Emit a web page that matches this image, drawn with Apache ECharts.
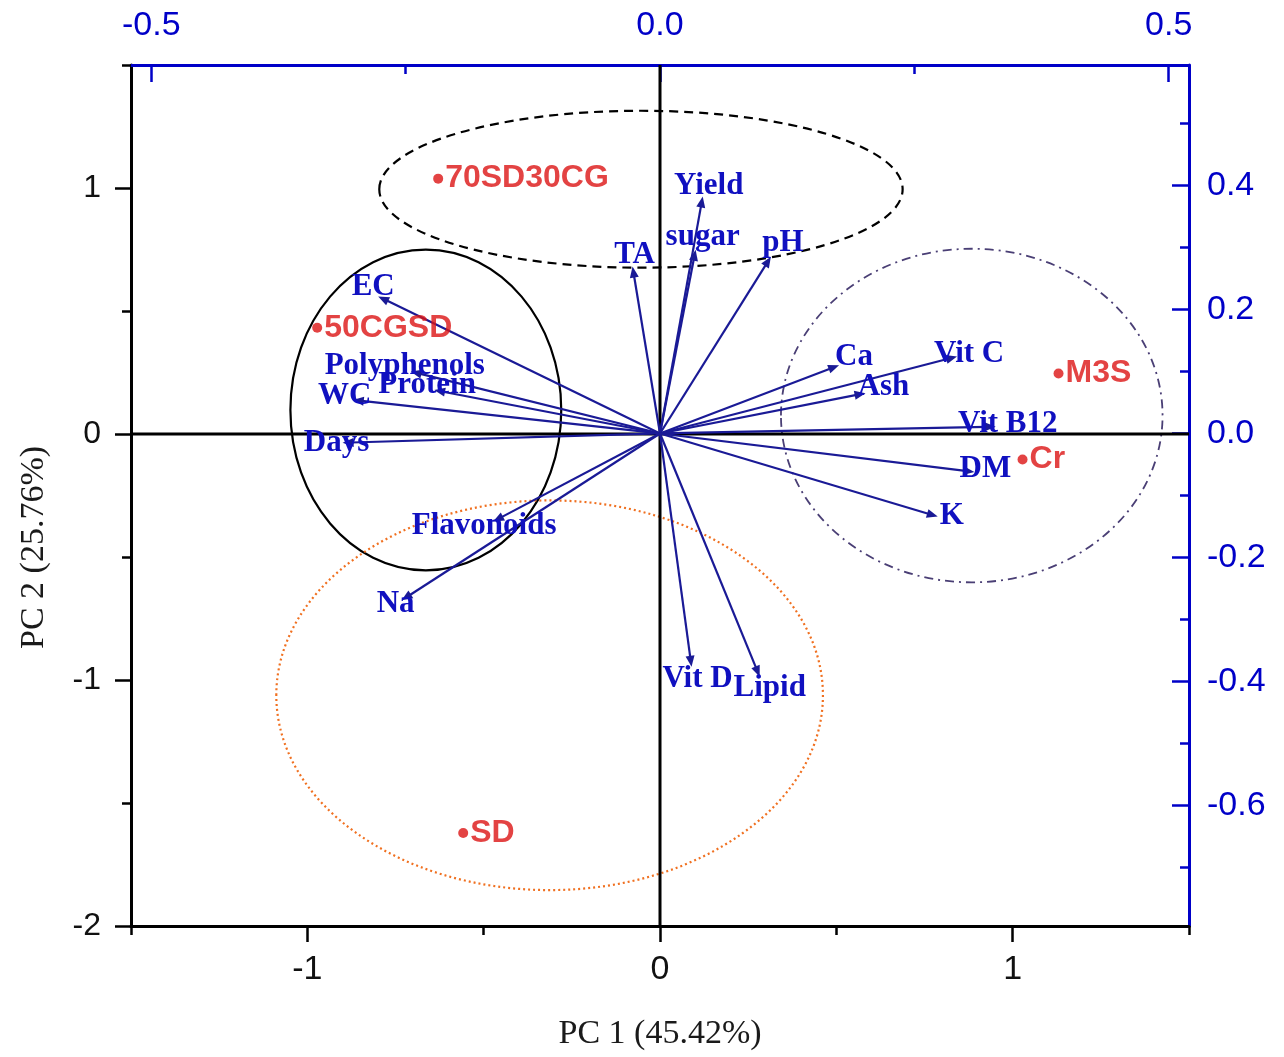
<!DOCTYPE html>
<html><head><meta charset="utf-8">
<script src="https://cdn.jsdelivr.net/npm/echarts@6/dist/echarts.min.js"></script>
<style>html,body{margin:0;padding:0;background:#fff}#c{width:1284px;height:1057px}</style>
</head><body><div id="c"></div>
<script>
// ---- Scores (bottom / left axes) ----
const sampleNames = ['70SD30CG', '50CGSD', 'M3S', 'Cr', 'SD'];
const samplePC1 = [-0.629, -0.972, 1.130, 1.028, -0.558];
const samplePC2 = [1.038, 0.432, 0.246, -0.104, -1.622];

// ---- Loadings (top / right axes) ----
const loadNames = ['EC', 'Polyphenols', 'Protein', 'WC', 'Days', 'Flavonoids', 'Na', 'Vit D', 'Lipid',
  'TA', 'sugar', 'Yield', 'pH', 'Ca', 'Vit C', 'Ash', 'Vit B12', 'DM', 'K'];
const loadPC1 = [-0.277, -0.245, -0.222, -0.302, -0.312, -0.164, -0.254, 0.031, 0.098,
  -0.027, 0.035, 0.042, 0.109, 0.176, 0.292, 0.202, 0.330, 0.309, 0.273];
const loadPC2 = [0.221, 0.100, 0.070, 0.054, -0.015, -0.142, -0.269, -0.376, -0.392,
  0.269, 0.296, 0.382, 0.285, 0.110, 0.124, 0.065, 0.011, -0.062, -0.134];

// ---- Tick values ----
const bottomMajor = [-1, 0, 1];
const bottomMinor = [-1.5, -0.5, 0.5, 1.5];
const leftMajor = [-2, -1, 0, 1];
const leftMinor = [-1.5, -0.5, 0.5, 1.5];
const topMajor = [-0.5, 0, 0.5];
const topMinor = [-0.25, 0.25];
const rightMajor = [-0.6, -0.4, -0.2, 0, 0.2, 0.4];
const rightMinor = [-0.7, -0.5, -0.3, -0.1, 0.1, 0.3, 0.5];

// ---- Group ellipses (score-axis units: cx, cy, rx, ry) ----
const ellipseCX = [-0.054, -0.664, -0.313, 0.884];
const ellipseCY = [0.995, 0.0975, -1.062, 0.075];
const ellipseRX = [0.742, 0.384, 0.775, 0.541];
const ellipseRY = [0.319, 0.652, 0.792, 0.678];

// ---- styles (kept apart from data) ----
const ellipseStyles = [
  { stroke: '#000', lineWidth: 2.2, lineDash: [9, 6] },
  { stroke: '#000', lineWidth: 2.2, lineDash: null },
  { stroke: '#f07020', lineWidth: 2.2, lineDash: [2, 3] },
  { stroke: '#4a3f75', lineWidth: 1.8, lineDash: [9, 5, 2, 5] }
];
const loadLabelShift = {
  'EC': [-5, -9], 'Polyphenols': [-6, -5], 'Protein': [-7, -5], 'WC': [-8, -4], 'Days': [-6, 0],
  'Flavonoids': [-9, 4], 'Na': [-6, 4], 'Vit D': [6, 12], 'Lipid': [10, 11], 'TA': [2, -12],
  'sugar': [7, -13], 'Yield': [6, -11], 'pH': [12, -14], 'Ca': [15, -8], 'Vit C': [12, -3],
  'Ash': [18, -6], 'Vit B12': [12, -3], 'DM': [11, -3], 'K': [14, -1]
};

const BLUE = '#0000c8';
const VEC = '#1a1a96';
const VEC_TXT = '#1010c0';
const RED = '#dc1414';
const SANS = '"Liberation Sans", Arial, sans-serif';
const SERIF = '"Liberation Serif", "Times New Roman", serif';

const chart = echarts.init(document.getElementById('c'), null, { renderer: 'canvas' });

function axisCommon() {
  return { type: 'value', splitLine: { show: false }, scale: false };
}

const option = {
  animation: false,
  backgroundColor: '#fff',
  grid: { left: 131, right: 95, top: 65, bottom: 131, containLabel: false, outerBoundsMode: 'none' },
  xAxis: [
    Object.assign(axisCommon(), {
      position: 'bottom', min: -1.5, max: 1.5,
      axisLine: { show: true, onZero: false, lineStyle: { color: '#000', width: 3 } },
      axisTick: { show: true, inside: false, length: 16, customValues: bottomMajor, lineStyle: { color: '#000', width: 2.5 } },
      axisLabel: { show: true, customValues: bottomMajor, margin: 27, color: '#111', fontFamily: SANS, fontSize: 34 },
      name: 'PC 1 (45.42%)', nameLocation: 'middle', nameGap: 91,
      nameTextStyle: { fontFamily: SERIF, fontSize: 34, color: '#1a1a1a' }
    }),
    Object.assign(axisCommon(), {
      position: 'top', min: -0.52, max: 0.52,
      axisLine: { show: true, onZero: false, lineStyle: { color: BLUE, width: 3 } },
      axisTick: { show: true, inside: true, length: 17, customValues: topMajor, lineStyle: { color: BLUE, width: 2.5 } },
      axisLabel: { show: true, customValues: topMajor, margin: 22, color: BLUE, fontFamily: SANS, fontSize: 34,
        formatter: v => v.toFixed(1) }
    }),
    Object.assign(axisCommon(), {
      position: 'bottom', min: -1.5, max: 1.5,
      axisLine: { show: false, onZero: false },
      axisTick: { show: true, inside: false, length: 9, customValues: bottomMinor, lineStyle: { color: '#000', width: 2.5 } },
      axisLabel: { show: false }
    }),
    Object.assign(axisCommon(), {
      position: 'top', min: -0.52, max: 0.52,
      axisLine: { show: false, onZero: false },
      axisTick: { show: true, inside: true, length: 9, customValues: topMinor, lineStyle: { color: BLUE, width: 2.5 } },
      axisLabel: { show: false }
    })
  ],
  yAxis: [
    Object.assign(axisCommon(), {
      position: 'left', min: -2, max: 1.5,
      axisLine: { show: true, onZero: false, lineStyle: { color: '#000', width: 3 } },
      axisTick: { show: true, inside: false, length: 16, customValues: leftMajor, lineStyle: { color: '#000', width: 2.5 } },
      axisLabel: { show: true, customValues: leftMajor, margin: 30, color: '#111', fontFamily: SANS, fontSize: 32 },
      name: 'PC 2 (25.76%)', nameLocation: 'middle', nameGap: 80, nameRotate: 90,
      nameTextStyle: { fontFamily: SERIF, fontSize: 34, color: '#1a1a1a', padding: [0, 104, 0, 0] }
    }),
    Object.assign(axisCommon(), {
      position: 'right', min: -0.794, max: 0.594,
      axisLine: { show: true, onZero: false, lineStyle: { color: BLUE, width: 3 } },
      axisTick: { show: true, inside: true, length: 17, customValues: rightMajor, lineStyle: { color: BLUE, width: 2.5 } },
      axisLabel: { show: true, customValues: rightMajor, margin: 18, color: BLUE, fontFamily: SANS, fontSize: 34,
        formatter: v => (Math.abs(v) < 1e-9 ? 0 : v).toFixed(1) }
    }),
    Object.assign(axisCommon(), {
      position: 'left', min: -2, max: 1.5,
      axisLine: { show: false, onZero: false },
      axisTick: { show: true, inside: false, length: 9, customValues: leftMinor, lineStyle: { color: '#000', width: 2.5 } },
      axisLabel: { show: false }
    }),
    Object.assign(axisCommon(), {
      position: 'right', min: -0.794, max: 0.594,
      axisLine: { show: false, onZero: false },
      axisTick: { show: true, inside: true, length: 9, customValues: rightMinor, lineStyle: { color: BLUE, width: 2.5 } },
      axisLabel: { show: false }
    })
  ],
  series: [
    // group ellipses
    {
      type: 'custom', xAxisIndex: 0, yAxisIndex: 0, z: 1, silent: true, clip: false,
      data: ellipseCX.map((cx, i) => [cx, ellipseCY[i], ellipseRX[i], ellipseRY[i], i]),
      renderItem: function (params, api) {
        const c = api.coord([api.value(0), api.value(1)]);
        const s = api.size([api.value(2), api.value(3)]);
        const st = ellipseStyles[api.value(4)];
        return {
          type: 'ellipse',
          shape: { cx: c[0], cy: c[1], rx: s[0], ry: s[1] },
          style: { fill: 'none', stroke: st.stroke, lineWidth: st.lineWidth, lineDash: st.lineDash }
        };
      }
    },
    // zero lines
    {
      type: 'custom', xAxisIndex: 0, yAxisIndex: 0, z: 2, silent: true,
      data: [[0, 0]],
      renderItem: function (params, api) {
        const cs = params.coordSys;
        const o = api.coord([0, 0]);
        return {
          type: 'group', children: [
            { type: 'line', shape: { x1: o[0], y1: cs.y, x2: o[0], y2: cs.y + cs.height }, style: { stroke: '#000', lineWidth: 3 } },
            { type: 'line', shape: { x1: cs.x, y1: o[1], x2: cs.x + cs.width, y2: o[1] }, style: { stroke: '#000', lineWidth: 3 } }
          ]
        };
      }
    },
    // loading vectors
    {
      type: 'custom', xAxisIndex: 1, yAxisIndex: 1, z: 3, silent: true,
      data: loadPC1.map((x, i) => [x, loadPC2[i], i]),
      renderItem: function (params, api) {
        const t = api.coord([api.value(0), api.value(1)]);
        const o = api.coord([0, 0]);
        const dx = t[0] - o[0], dy = t[1] - o[1];
        const L = Math.sqrt(dx * dx + dy * dy) || 1;
        const ux = dx / L, uy = dy / L;
        const hl = 11, hw = 4.5;
        const bx = t[0] - ux * hl, by = t[1] - uy * hl;
        return {
          type: 'group', children: [
            { type: 'line', shape: { x1: o[0], y1: o[1], x2: bx + ux * 2, y2: by + uy * 2 }, style: { stroke: VEC, lineWidth: 2.2 } },
            { type: 'polygon', shape: { points: [[t[0], t[1]], [bx - uy * hw, by + ux * hw], [bx + uy * hw, by - ux * hw]] }, style: { fill: VEC } }
          ]
        };
      }
    },
    // loading labels
    {
      type: 'custom', xAxisIndex: 1, yAxisIndex: 1, z: 4, silent: true,
      data: loadPC1.map((x, i) => [x, loadPC2[i], i]),
      renderItem: function (params, api) {
        const t = api.coord([api.value(0), api.value(1)]);
        const name = loadNames[api.value(2)];
        const sh = loadLabelShift[name] || [0, 0];
        return {
          type: 'text', x: t[0] + sh[0], y: t[1] + sh[1],
          style: { text: name, fill: VEC_TXT, fontFamily: SERIF, fontWeight: 'bold', fontSize: 31, align: 'center', verticalAlign: 'middle' }
        };
      }
    },
    // sample scores
    {
      type: 'scatter', xAxisIndex: 0, yAxisIndex: 0, z: 5, symbol: 'circle', symbolSize: 10,
      itemStyle: { color: RED },
      label: { show: true, position: 'right', distance: 2, formatter: '{b}', color: RED, fontFamily: SANS, fontWeight: 'bold', fontSize: 32 },
      data: sampleNames.map((n, i) => ({ name: n, value: [samplePC1[i], samplePC2[i]] }))
    }
  ]
};
chart.setOption(option);
</script>
</body></html>
